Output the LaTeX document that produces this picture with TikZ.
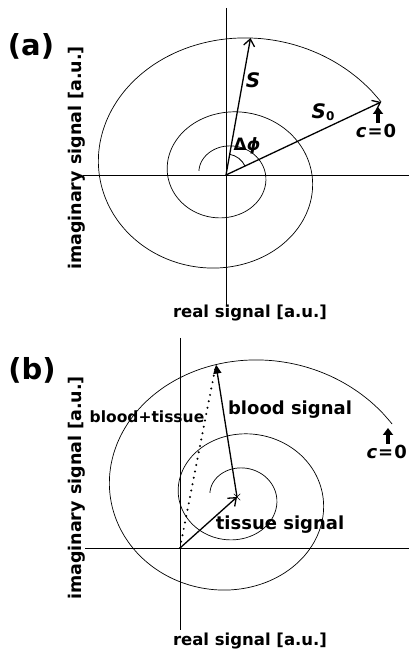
\documentclass[tikz,border=0pt]{standalone}
\usepackage{fontspec}
\setmainfont{DejaVu Sans}
\usetikzlibrary{arrows.meta,shapes.misc}

\newcommand{\fsize}[1]{\fontsize{#1}{#1}\selectfont\bfseries}

\begin{document}
\begin{tikzpicture}[x=1pt, y=1pt, declare function={sprR(\t)=165.1*exp(-0.002157*\t);}]
	\tikzstyle{axis} = [line width=0.8pt]
	\tikzstyle{vec} = [line width=1.3pt, -{Straight Barb[length=7pt, width=11pt, line width=1.3pt]}]
	\tikzstyle{fillvec} = [line width=1.3pt, -{Triangle[length=9pt, width=8pt]}]
	\tikzstyle{upar} = [line width=3.2pt, -{Triangle[length=7pt, width=10pt]}]
	\tikzstyle{txt} = [inner sep=1pt, font=\fsize{18}]
	\tikzstyle{axtxt} = [inner sep=1pt, font=\fsize{16.5}]
	\tikzset{curl/.pic={
		\draw[line width=0.7pt] plot[domain=28:890, samples=160, smooth, variable=\t] ({1.13*sprR(\t)*cos(\t)}, {sprR(\t)*sin(\t)});
	}}

	\useasboundingbox (0,0) rectangle (409,655);

	% (a) axes and spiral
	\coordinate (Oa) at (226,480);
	\coordinate (Atop) at (226,647);
	\coordinate (Abot) at (226,350);
	\coordinate (Aleft) at (83,480);
	\coordinate (Aright) at (409,480);
	\draw[axis] (Atop) -- (Abot);
	\draw[axis] (Aleft) -- (Aright);
	\pic at (Oa) {curl};

	% (a) vectors
	\coordinate (S) at ([shift={({1.13*sprR(81)*cos(81)},{sprR(81)*sin(81)})}]Oa);
	\coordinate (S0) at ([shift={({1.13*sprR(28)*cos(28)},{sprR(28)*sin(28)})}]Oa);
	\draw[vec] (Oa) -- (S);
	\draw[vec] (Oa) -- (S0);
	\draw[line width=0.8pt] ([shift={(25:21)}]Oa) arc[start angle=25, end angle=80, radius=21];

	% (a) labels
	\node[font=\fsize{29}] (tagA) at (31,609) {(a)};
	\node[txt, font=\fsize{20}] (Slbl) at (253,575) {\textit{S}};
	\node[txt, font=\fsize{20}] (S0lbl) at (323,543) {\textit{S}\raisebox{-2pt}{\fsize{12}0}};
	\node[txt, font=\fsize{17}] (dphi) at (247,509) {Δ\textit{ϕ}};
	\node[txt] (C0a) at (376,524) {\textit{c}\kern1pt=\kern1pt0};
	\coordinate (Ua) at (378,548);
	\draw[upar] (C0a.north -| Ua) -- (Ua);
	\node[axtxt] (realA) at (250,342) {real signal [a.u.]};
	\node[axtxt, font=\fsize{17.5}, rotate=90] (imagA) at (77,497) {imaginary signal [a.u.]};

	% (b) axes and spiral
	\coordinate (Ob) at (180,107);
	\coordinate (Cb) at (237,158);
	\coordinate (Btop) at (180,317);
	\coordinate (Bbot) at (180,25);
	\coordinate (Bleft) at (85,107);
	\coordinate (Bright) at (409,107);
	\draw[axis] (Btop) -- (Bbot);
	\draw[axis] (Bleft) -- (Bright);
	\pic at (Cb) {curl};

	% (b) vectors
	\coordinate (Tip) at ([shift={({1.13*sprR(98)*cos(98)},{sprR(98)*sin(98)})}]Cb);
	\node[draw, cross out, minimum size=6pt, inner sep=0pt, line width=0.5pt] (X) at (Cb) {};
	\draw[vec] (Ob) -- (Cb);
	\draw[line width=2.2pt, line cap=round, dash pattern=on 0pt off 6.5pt] (Ob) -- (Tip);
	\draw[fillvec] (Cb) -- (Tip);

	% (b) labels
	\node[font=\fsize{29}] (tagB) at (32,285) {(b)};
	\node[txt, font=\fsize{15.5}] (sum) at (147,238) {blood+tissue};
	\node[txt] (blood) at (290,245) {blood signal};
	\node[txt] (tissue) at (280,130) {tissue signal};
	\node[txt, anchor=east] (C0b) at (408,203) {\textit{c}\kern1pt=\kern1pt0};
	\coordinate (Ub) at (388,227);
	\draw[upar] (C0b.north -| Ub) -- (Ub);
	\node[axtxt] (realB) at (250,14) {real signal [a.u.]};
	\node[axtxt, font=\fsize{17.5}, rotate=90] (imagB) at (77,167) {imaginary signal [a.u.]};
\end{tikzpicture}
\end{document}
